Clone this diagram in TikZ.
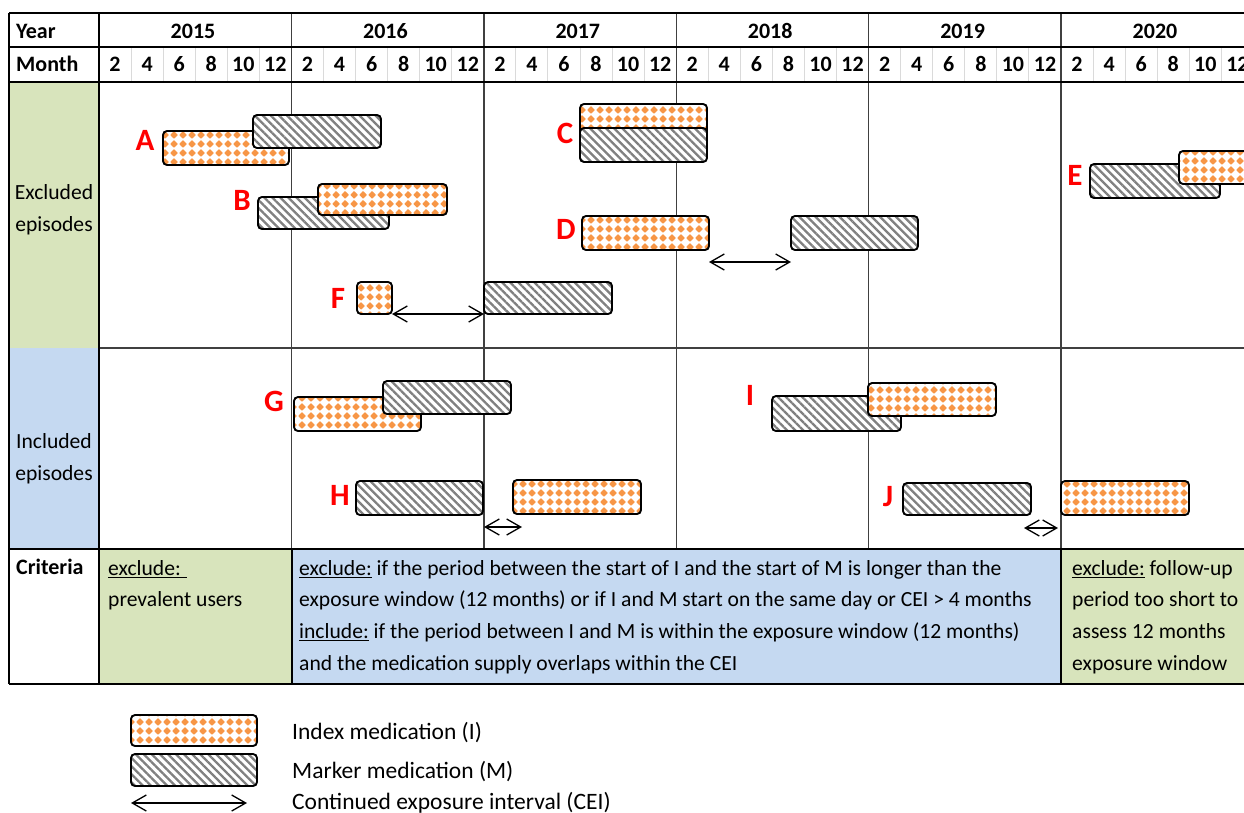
\documentclass[tikz,border=0pt]{standalone}
\usepackage{fontspec}
\setmainfont{Carlito}
\usetikzlibrary{patterns.meta,arrows.meta}
\definecolor{exclgreen}{HTML}{D8E4BC}
\definecolor{inclblue}{HTML}{C5D9F1}
\definecolor{medorange}{HTML}{F79646}
\definecolor{cellgray}{HTML}{DADADA}
\definecolor{linegray}{HTML}{404040}
\tikzdeclarepattern{
  name=orangediamonds,
  type=uncolored,
  bounding box={(0pt,0pt) and (8.5pt,8.5pt)},
  tile size={(8.5pt,8.5pt)},
  code={
    \fill[rounded corners=0.5pt] (4.25pt,0.2pt) -- (8.3pt,4.25pt) -- (4.25pt,8.3pt) -- (0.2pt,4.25pt) -- cycle;
  }
}
\tikzset{
  medbar/.style={draw=black, line width=1.9pt, rounded corners=4pt, anchor=north west,
    inner sep=0pt, outer sep=0pt, minimum width=127pt, minimum height=33pt, preaction={fill=white}},
  indexmed/.style={medbar, pattern=orangediamonds, pattern color=medorange},
  markermed/.style={medbar, pattern={Lines[angle=-45,distance=5.7pt,line width=2.3pt]}, pattern color=gray},
  eplabel/.style={text=red, font=\fontsize{31}{31}\selectfont\bfseries, inner sep=0pt},
  hdr/.style={font=\fontsize{22}{26}\selectfont\bfseries, inner sep=0pt},
  body/.style={font=\fontsize{21.6}{31.6}\selectfont, inner sep=0pt},
  legendtext/.style={font=\fontsize{23.5}{28}\selectfont, inner sep=0pt, anchor=base west},
  cei/.style={{Straight Barb[length=14pt,width=16pt]}-{Straight Barb[length=14pt,width=16pt]}, line width=1.3pt}
}
\begin{document}
\begin{tikzpicture}[x=1pt,y=-1pt]
\useasboundingbox (0,0) rectangle (1244,812);
\clip (0,0) rectangle (1244,812);

\fill[exclgreen] (9,82) rectangle (99,348);
\fill[inclblue] (9,348) rectangle (99,549);
\fill[exclgreen] (99,549) rectangle (292,684);
\fill[inclblue] (292,549) rectangle (1061,684);
\fill[exclgreen] (1061,549) rectangle (1250,684);

\foreach \j in {0,...,5}
  \foreach \k in {1,...,5}
    \draw[cellgray, line width=1pt] ({99+\j*192.4+\k*32.07},47) -- ++(0,35);
\foreach \x in {291.5,484,676.5,868.5,1061}
  \draw[linegray, line width=1.3pt] (\x,13) -- (\x,549);
\draw[line width=1.2pt, linegray] (99,348) -- (1250,348);
\draw[line width=1.8pt] (9,13) -- (1250,13);
\draw[line width=1.8pt] (9,47) -- (1250,47);
\draw[line width=1.8pt] (9,82) -- (1250,82);
\draw[line width=1.8pt] (9,549) -- (1250,549);
\draw[line width=1.8pt] (9,684) -- (1250,684);
\draw[line width=1.8pt] (9,13) -- (9,684);
\draw[line width=1.8pt] (99,13) -- (99,684);
\draw[line width=1.8pt] (292,549) -- (292,684);
\draw[line width=1.8pt] (1061,549) -- (1061,684);

\node[hdr, anchor=base west] (year) at (16,38) {Year};
\node[hdr, anchor=base west] (month) at (16,71.5) {Month};
\foreach \yr [count=\j from 0] in {2015,...,2020}{
  \node[hdr, anchor=base] (yr\yr) at ({99+\j*192.4+94},38) {\yr};
  \foreach \k [evaluate=\k as \mo using int(2*\k)] in {1,...,6}
    \node[hdr, anchor=base] (m\yr-\k) at ({99+\j*192.4+(\k-0.5)*32.07},71.5) {\mo};
}

\node[body, align=center] (excl) at (54,210) {Excluded\\episodes};
\node[body, align=center] (incl) at (54,459) {Included\\episodes};
\node[hdr, anchor=base west] (crit) at (16,574) {Criteria};
\node[body, align=left, anchor=north west] (critA) at (108,560) {\underline{exclude: }\\prevalent users};
\node[body, align=left, anchor=north west] (critB) at (299,560)
  {\underline{exclude:} if the period between the start of I and the start of M is longer than the\\
   exposure window (12 months) or if I and M start on the same day or CEI > 4 months\\
   \underline{include:} if the period between I and M is within the exposure window (12 months)\\
   and the medication supply overlaps within the CEI};
\node[body, align=left, anchor=north west] (critC) at (1072,560)
  {\underline{exclude:} follow-up\\period too short to\\assess 12 months\\exposure window};

\node[indexmed, minimum width=126pt, minimum height=34pt] (Ai) at (163,131) {};
\node[markermed, minimum width=128pt] (Am) at (253,115) {};
\node[markermed, minimum width=131pt, minimum height=32pt] (Bm) at (258,197) {};
\node[indexmed, minimum width=129pt, minimum height=31pt] (Bi) at (318,184) {};
\node[indexmed] (Ci) at (580,104) {};
\node[markermed, minimum height=34pt] (Cm) at (580,128) {};
\node[indexmed, minimum height=34pt] (Di) at (582,216) {};
\node[markermed, minimum height=34pt] (Dm) at (791,216) {};
\node[markermed, minimum width=130pt, minimum height=34pt] (Em) at (1090,164) {};
\node[indexmed] (Ei) at (1179,151) {};
\node[indexmed, minimum width=35pt, minimum height=32pt] (Fi) at (357,282) {};
\node[markermed, minimum width=128pt, minimum height=32pt] (Fm) at (484,282) {};
\node[indexmed, minimum height=34pt] (Gi) at (294,397) {};
\node[markermed, minimum width=128pt] (Gm) at (383,381) {};
\node[markermed, minimum height=34pt] (Hm) at (356,481) {};
\node[indexmed, minimum width=128pt, minimum height=34pt] (Hi) at (513,480) {};
\node[markermed, minimum width=129pt, minimum height=35pt] (Im) at (772,396) {};
\node[indexmed, minimum width=128pt] (Ii) at (868,383) {};
\node[markermed, minimum width=128pt, minimum height=32pt] (Jm) at (903,483) {};
\node[indexmed, minimum width=128pt, minimum height=34pt] (Ji) at (1061,481) {};

\node[eplabel] (labA) at (145,140) {A};
\node[eplabel] (labB) at (242,200) {B};
\node[eplabel] (labC) at (565,133) {C};
\node[eplabel] (labD) at (566,229) {D};
\node[eplabel] (labE) at (1075,175) {E};
\node[eplabel] (labF) at (338,298) {F};
\node[eplabel] (labG) at (274,401) {G};
\node[eplabel] (labH) at (340,495) {H};
\node[eplabel] (labI) at (750,395) {I};
\node[eplabel] (labJ) at (888,497) {J};

\coordinate (hl) at (484,527);
\coordinate (hr) at (522,527);
\coordinate (jl) at (1024,528);
\coordinate (jr) at (1058,528);
\draw[cei] (Fi.south east) -- (Fm.south west);
\draw[cei] ([yshift=-12pt]Di.south east) -- ([yshift=-12pt]Dm.south west);
\draw[cei] (hl) -- (hr);
\draw[cei] (jl) -- (jr);

\node[indexmed, minimum width=126pt, minimum height=31pt] (legI) at (131,715) {};
\node[markermed, minimum width=126pt, minimum height=32pt] (legM) at (131,754) {};
\coordinate (legl) at (131,803);
\coordinate (legr) at (247,803);
\draw[cei] (legl) -- (legr);
\node[legendtext] (txtI) at (292,739) {Index medication (I)};
\node[legendtext] (txtM) at (292,778) {Marker medication (M)};
\node[legendtext] (txtC) at (292,809) {Continued exposure interval (CEI)};
\end{tikzpicture}
\end{document}
